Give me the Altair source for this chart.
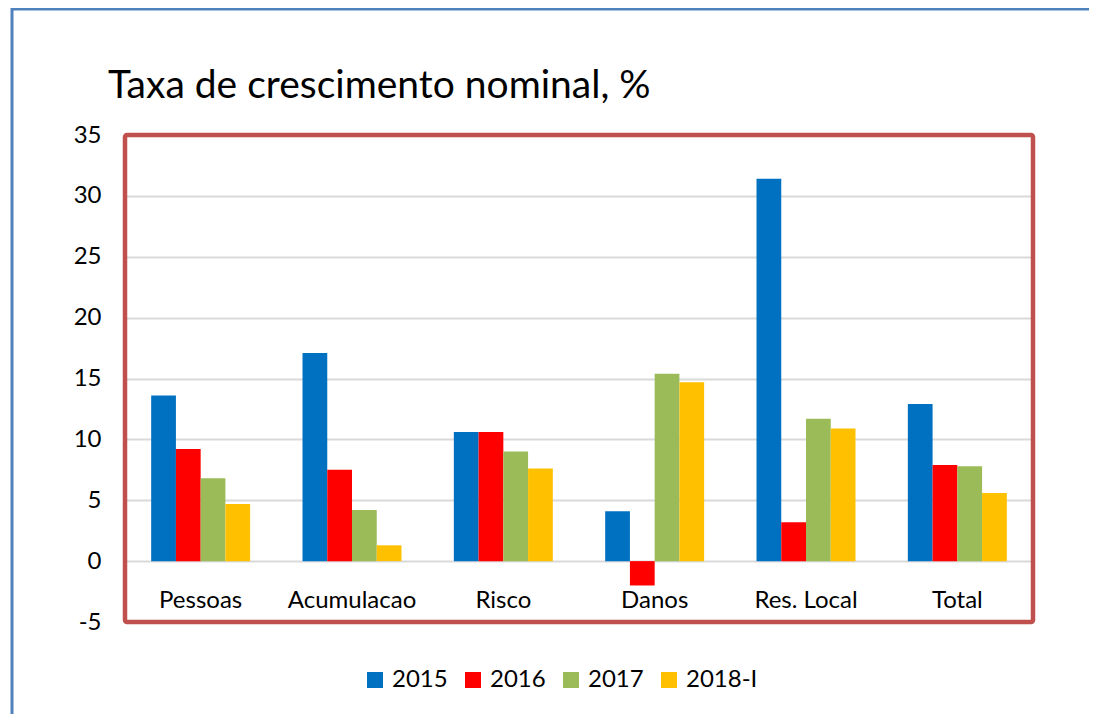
import altair as alt
import pandas as pd

categories = ["Pessoas", "Acumulacao", "Risco", "Danos", "Res. Local", "Total"]
years = ["2015", "2016", "2017", "2018-I"]
v2015 = [13.6, 17.1, 10.6, 4.1, 31.4, 12.9]
v2016 = [9.2, 7.5, 10.6, -2.0, 3.2, 7.9]
v2017 = [6.8, 4.2, 9.0, 15.4, 11.7, 7.8]
v2018 = [4.7, 1.3, 7.6, 14.7, 10.9, 5.6]
colors = ["#0070c0", "#ff0000", "#9bbb59", "#ffc000"]
y_ticks = [-5, 0, 5, 10, 15, 20, 25, 30, 35]
title_text = ["Taxa de crescimento nominal, %"]

rows = []
for yr, vals in zip(years, [v2015, v2016, v2017, v2018]):
    for c, v in zip(categories, vals):
        rows.append({"cat": c, "year": yr, "value": v})
df = pd.DataFrame(rows)

FONT = "Lato"
W, H = 908, 487

bars = alt.Chart(df).mark_bar().encode(
    x=alt.X("cat:N", sort=categories, title=None,
            scale=alt.Scale(paddingInner=0.346, paddingOuter=0.173),
            axis=alt.Axis(orient="bottom", offset=-40, domain=False, ticks=False,
                          labelAngle=0, labelFontSize=24, labelFont=FONT,
                          labelColor="#000000", labelPadding=6)),
    xOffset=alt.XOffset("year:N", sort=years),
    y=alt.Y("value:Q", title=None,
            scale=alt.Scale(domain=[-5, 35], nice=False, zero=False),
            axis=alt.Axis(values=y_ticks, domain=False, ticks=False,
                          labelExpr="datum.value",
                          labelFontSize=24, labelFont=FONT, labelColor="#000000",
                          labelPadding=24, gridColor="#d9d9d9", gridWidth=2)),
    color=alt.Color("year:N", sort=years,
                    scale=alt.Scale(domain=years, range=colors),
                    legend=alt.Legend(title=None, orient="none", direction="horizontal",
                                      columns=4, legendX=238, legendY=533,
                                      symbolType="square", symbolSize=256,
                                      symbolStrokeWidth=0, labelFontSize=24,
                                      labelFont=FONT, labelColor="#000000",
                                      labelOffset=5, columnPadding=13)),
)

frame = alt.Chart(pd.DataFrame({"k": [0]})).mark_rect(
    fill=None, stroke="#4f81bd", strokeWidth=3
).encode(
    x=alt.value(-113), y=alt.value(-126),
    x2=alt.value(W + 200), y2=alt.value(H + 200),
)

border = alt.Chart(pd.DataFrame({"k": [0]})).mark_rect(
    fill=None, stroke="#c0504d", strokeWidth=4.5, cornerRadius=2
).encode(
    x=alt.value(0), y=alt.value(0),
    x2=alt.value(W), y2=alt.value(H),
)

title = alt.Chart(pd.DataFrame({"t": title_text})).mark_text(
    align="left", baseline="alphabetic", fontSize=39, font=FONT, color="#000000"
).encode(text="t:N", x=alt.value(-17), y=alt.value(-37))

chart = alt.layer(frame, bars, border, title).properties(
    width=W, height=H,
    autosize=alt.AutoSizeParams(type="none"),
    padding={"left": 117, "top": 127, "right": 56, "bottom": 92},
).configure(background="white").configure_view(stroke=None)

chart.save("out.html", embed_options={"renderer": "svg", "actions": False})
